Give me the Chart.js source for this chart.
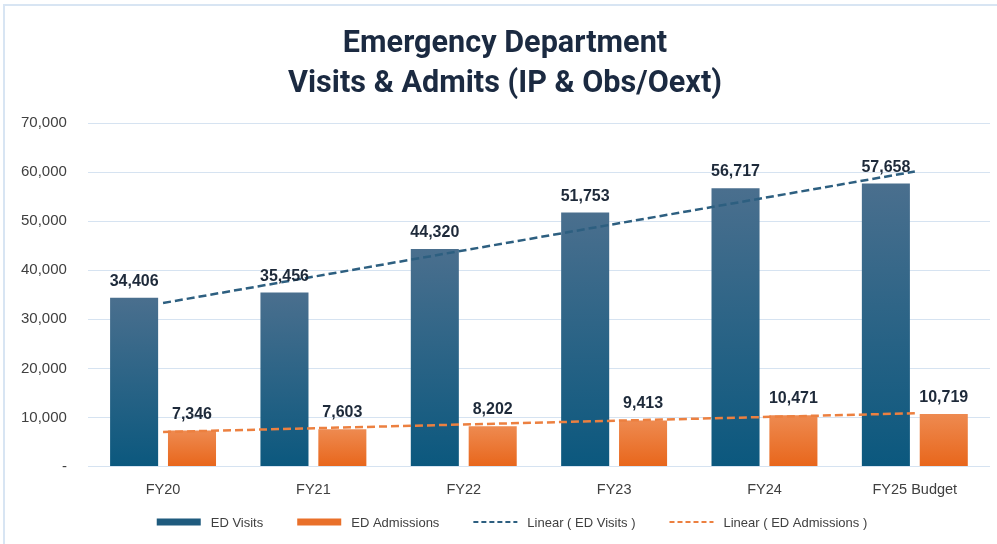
<!DOCTYPE html>
<html>
<head>
<meta charset="utf-8">
<script src="https://cdn.jsdelivr.net/npm/chart.js@4.4.1/dist/chart.umd.min.js"></script>
<style>
  html, body { margin: 0; padding: 0; background: #fff; }
  #frame { position: absolute; left: 3px; top: 4px; width: 994px; height: 540px;
           border-left: 2px solid #d8e5f3; border-top: 2px solid #d8e5f3; box-sizing: border-box; }
  #wrap { position: absolute; left: 0; top: 0; width: 997px; height: 544px; }
</style>
</head>
<body>
<div id="frame"></div>
<div id="wrap"><canvas id="chart"></canvas></div>
<script>
// Data
const categories = ['FY20', 'FY21', 'FY22', 'FY23', 'FY24', 'FY25 Budget'];
const edVisits = [34406, 35456, 44320, 51753, 56717, 57658];
const edAdmissions = [7346, 7603, 8202, 9413, 10471, 10719];
// trendline ends (first and last category)
const visitsTrend = [33330, null, null, null, null, 60110];
const admissionsTrend = [7050, null, null, null, null, 10870];
const yTicks = [0, 10000, 20000, 30000, 40000, 50000, 60000, 70000];
const titleLines = ['Emergency Department', 'Visits & Admits (IP & Obs/Oext)'];

const SANS = "'Liberation Sans', Arial, sans-serif";
const TITLE_FONT = "bold 31px Roboto, 'Liberation Sans', sans-serif";

function fmt(v) {
    return v === 0 ? '-' : v.toLocaleString('en-US');
}

// per-bar vertical gradient
function barGradient(top, bottom) {
    return (ctx) => {
        const chart = ctx.chart;
        const y = chart.scales.y;
        if (!y || ctx.raw == null) return bottom;
        const y0 = y.getPixelForValue(ctx.raw);
        const y1 = y.getPixelForValue(0);
        if (!isFinite(y0) || !isFinite(y1) || y0 === y1) return bottom;
        const g = chart.ctx.createLinearGradient(0, y0, 0, y1);
        g.addColorStop(0, top);
        g.addColorStop(1, bottom);
        return g;
    };
}

// Title (narrowed to match the condensed face of the original)
const titlePlugin = {
    id: 'condensedTitle',
    afterDraw(chart) {
        const ctx = chart.ctx;
        ctx.save();
        ctx.font = TITLE_FONT;
        ctx.fillStyle = '#1b2a41';
        ctx.textAlign = 'center';
        ctx.textBaseline = 'alphabetic';
        const w = ctx.measureText(titleLines[1]).width;
        const sx = Math.min(1, 434 / w);
        const cx = 505;
        ctx.translate(cx, 0);
        ctx.scale(sx, 1);
        ctx.fillText(titleLines[0], 0, 52);
        ctx.fillText(titleLines[1], 0, 92);
        ctx.restore();
    }
};

// value labels above bars
const barLabels = {
    id: 'barLabels',
    afterDatasetsDraw(chart) {
        const ctx = chart.ctx;
        ctx.save();
        ctx.font = 'bold 16px ' + SANS;
        ctx.fillStyle = '#1e2a3a';
        ctx.textAlign = 'center';
        ctx.textBaseline = 'alphabetic';
        chart.data.datasets.forEach((ds, i) => {
            if (ds.type !== 'bar') return;
            chart.getDatasetMeta(i).data.forEach((bar, j) => {
                ctx.fillText(fmt(ds.data[j]), bar.x, bar.y - 12);
            });
        });
        ctx.restore();
    }
};

// Legend drawn by hand so the gaps match the original
const legendItems = [
    { text: 'ED Visits', color: '#1f5b7e', kind: 'box' },
    { text: 'ED Admissions', color: '#e9702a', kind: 'box' },
    { text: 'Linear ( ED Visits )', color: '#2d5f80', kind: 'dash' },
    { text: 'Linear ( ED Admissions )', color: '#ec8040', kind: 'dash' }
];

const legendPlugin = {
    id: 'customLegend',
    afterDraw(chart) {
        const ctx = chart.ctx;
        const markW = 44, markGap = 10, itemGap = 34, cy = 522;
        ctx.save();
        ctx.font = '13px ' + SANS;
        const widths = legendItems.map(it => markW + markGap + ctx.measureText(it.text).width);
        const total = widths.reduce((a, b) => a + b, 0) + itemGap * (legendItems.length - 1);
        let x = 512 - total / 2;
        legendItems.forEach((it, i) => {
            if (it.kind === 'box') {
                ctx.fillStyle = it.color;
                ctx.fillRect(x, cy - 3.5, markW, 7);
            } else {
                ctx.strokeStyle = it.color;
                ctx.lineWidth = 2;
                ctx.setLineDash([5, 3]);
                ctx.beginPath();
                ctx.moveTo(x, cy);
                ctx.lineTo(x + markW, cy);
                ctx.stroke();
                ctx.setLineDash([]);
            }
            ctx.fillStyle = '#404040';
            ctx.textAlign = 'left';
            ctx.textBaseline = 'middle';
            ctx.fillText(it.text, x + markW + markGap, cy + 1);
            x += widths[i] + itemGap;
        });
        ctx.restore();
    }
};

const chart = new Chart(document.getElementById('chart'), {
    type: 'bar',
    data: {
        labels: categories,
        datasets: [
            {
                type: 'line',
                label: 'Linear ( ED Visits )',
                data: visitsTrend,
                borderColor: '#2d5f80',
                borderWidth: 2.5,
                borderDash: [8, 4],
                pointRadius: 0,
                spanGaps: true,
                fill: false
            },
            {
                type: 'line',
                label: 'Linear ( ED Admissions )',
                data: admissionsTrend,
                borderColor: '#ec8040',
                borderWidth: 2.5,
                borderDash: [8, 4],
                pointRadius: 0,
                spanGaps: true,
                fill: false
            },
            {
                type: 'bar',
                label: 'ED Visits',
                data: edVisits,
                backgroundColor: barGradient('#4a6f8e', '#0b587e'),
                categoryPercentage: 0.77,
                barPercentage: 0.83,
                order: 2
            },
            {
                type: 'bar',
                label: 'ED Admissions',
                data: edAdmissions,
                backgroundColor: barGradient('#ee8a50', '#e8661b'),
                categoryPercentage: 0.77,
                barPercentage: 0.83,
                order: 2
            }
        ]
    },
    options: {
        responsive: true,
        maintainAspectRatio: false,
        animation: false,
        layout: { padding: { left: 0, right: 7, top: 123, bottom: 30 } },
        plugins: {
            title: { display: false },
            legend: { display: false },
            tooltip: { enabled: false }
        },
        scales: {
            x: {
                grid: { display: false, drawTicks: false },
                border: { display: false },
                ticks: { color: '#404040', font: { family: SANS, size: 14.5 }, padding: 15 }
            },
            y: {
                min: 0,
                max: 70000,
                afterBuildTicks: (axis) => { axis.ticks = yTicks.map(v => ({ value: v })); },
                grid: { color: '#d6e3f1', lineWidth: 1, drawTicks: false },
                border: { display: false },
                ticks: {
                    color: '#404040',
                    font: { family: SANS, size: 15 },
                    padding: 21,
                    callback: (v) => fmt(v)
                }
            }
        }
    },
    plugins: [barLabels, titlePlugin, legendPlugin]
});
</script>
</body>
</html>
